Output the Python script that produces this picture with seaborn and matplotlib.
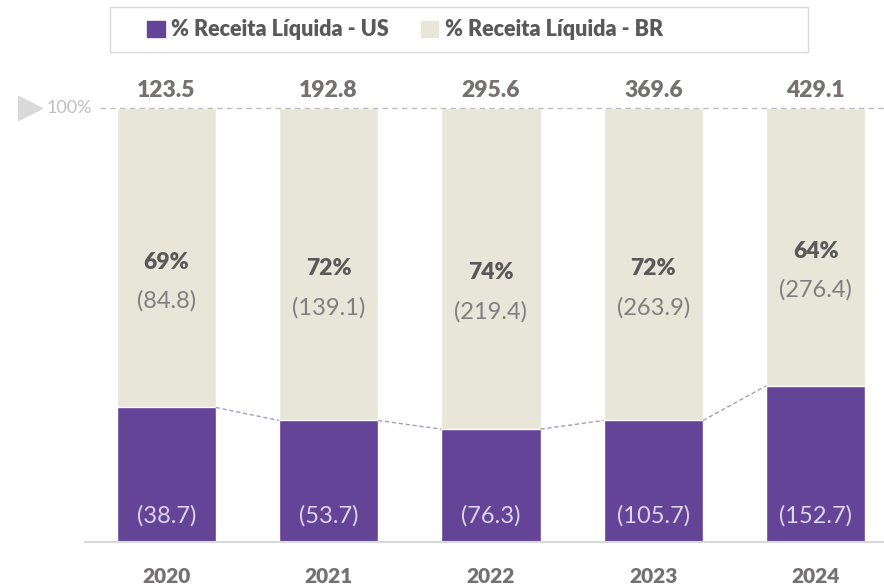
import pandas as pd
import seaborn as sns
import matplotlib.pyplot as plt
from matplotlib.patches import Patch, Rectangle
from matplotlib.lines import Line2D

years = ["2020", "2021", "2022", "2023", "2024"]
totals = [123.5, 192.8, 295.6, 369.6, 429.1]
us_vals = [38.7, 53.7, 76.3, 105.7, 152.7]
br_vals = [84.8, 139.1, 219.4, 263.9, 276.4]
br_pct = [69, 72, 74, 72, 64]

PURPLE = "#634497"
BEIGE = "#E8E6D9"
GREY = "#767171"

sns.set_theme(style="white")
plt.rcParams["font.family"] = ["Lato", "DejaVu Sans"]

df = pd.DataFrame({"year": years, "br": [p / 100 for p in br_pct]})
df["us"] = 1 - df["br"]
df["full"] = 1.0

fig = plt.figure(figsize=(8.84, 5.87), dpi=100)
ax = fig.add_axes([85 / 884, 45 / 587, 799 / 884, 434 / 587])

sns.barplot(data=df, x="year", y="full", color=BEIGE, width=0.61, saturation=1, ax=ax)
sns.barplot(data=df, x="year", y="us", color=PURPLE, width=0.61, saturation=1, ax=ax)

ax.set_xlim(-0.5, 4.42)
ax.set_ylim(0, 1)
ax.set_xlabel("")
ax.set_ylabel("")
ax.set_yticks([])
ax.tick_params(axis="x", length=0, pad=18)
for lbl in ax.get_xticklabels():
    lbl.set_fontsize(15)
    lbl.set_fontweight("heavy")
    lbl.set_color(GREY)
for s in ["top", "right", "left"]:
    ax.spines[s].set_visible(False)
ax.spines["bottom"].set_color("#D9D9D9")
ax.spines["bottom"].set_linewidth(1.5)

# 100% reference line
ax.plot([-0.41, 4.42], [1, 1], ls=(0, (4, 3)), color="#BFBFBF", lw=1, clip_on=False)
fig.text(47 / 884, 1 - 108 / 587, "100%", fontsize=13, color="#BFBFBF", va="center")
fig.add_artist(Line2D([30 / 884], [1 - 108 / 587], transform=fig.transFigure,
                      marker=">", markersize=17, color="#D9D9D9", lw=0))

# dashed connectors between US tops
hw = 0.305
for i in range(len(years) - 1):
    ax.plot([i + hw, i + 1 - hw], [df["us"][i], df["us"][i + 1]], ls=(0, (3, 2)),
            color="#A898CC", lw=1)

for i in range(len(years)):
    us = df["us"][i]
    mid = us + (1 - us) / 2
    ax.text(i, 1.015, f"{totals[i]:.1f}", ha="center", va="bottom", fontsize=16.5,
            fontweight="heavy", color=GREY)
    ax.text(i, mid - 0.01, f"{br_pct[i]}%", ha="center", va="center", fontsize=16.5,
            fontweight="heavy", color="#595959")
    ax.text(i, mid - 0.1, f"({br_vals[i]:.1f})", ha="center", va="center", fontsize=17,
            color="#7F7F7F")
    ax.text(i, 0.06, f"({us_vals[i]:.1f})", ha="center", va="center", fontsize=17,
            color="#DCD5EC")

# legend (box drawn separately, content left-biased as in the original)
fig.add_artist(Rectangle((110 / 884, 1 - 52 / 587), 698 / 884, 45 / 587,
                         transform=fig.transFigure, fill=False, edgecolor="#D9D9D9",
                         lw=1))
handles = [Patch(color=PURPLE, label="% Receita Líquida - US"),
           Patch(color=BEIGE, label="% Receita Líquida - BR")]
leg = fig.legend(handles=handles, loc="center left",
                 bbox_to_anchor=(128 / 884, 1 - 30 / 587), ncol=2, frameon=False,
                 fontsize=15.5, handlelength=0.8, handleheight=0.8, handletextpad=0.3,
                 columnspacing=1.5)
for t in leg.get_texts():
    t.set_color("#595959")
    t.set_fontweight("heavy")

fig.savefig("out.png", dpi=100)
